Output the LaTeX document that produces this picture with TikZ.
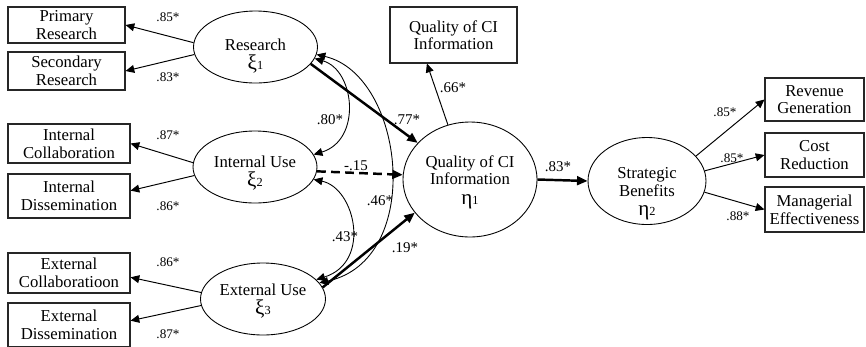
\documentclass[tikz,border=0pt]{standalone}
\usepackage{fontspec}
\setmainfont{Liberation Serif}
\usetikzlibrary{arrows.meta,shapes.geometric}
\newcommand{\mainfnt}{\fontsize{9.5}{10}\selectfont}
\newcommand{\grk}[2]{{\fontsize{12}{12}\selectfont #1}{\fontsize{7}{7}\selectfont #2}}
\tikzset{
  obs/.style={draw=black!85,line width=0.6pt,inner sep=0pt,align=center,font=\mainfnt},
  lat/.style={ellipse,draw,line width=0.5pt,inner sep=0pt},
  lattxt/.style={align=center,font=\mainfnt,inner sep=0pt},
  ld/.style={-{Triangle[length=5pt,width=4.5pt]},line width=0.55pt},   % loading
  pth/.style={-{Triangle[length=6pt,width=5pt]},line width=1.4pt},     % structural path
  cor/.style={{Triangle[length=5pt,width=4.5pt]}-{Triangle[length=5pt,width=4.5pt]},line width=0.5pt}, % covariance
  coefL/.style={font=\fontsize{7.5}{8}\selectfont,inner sep=0pt},
  coefR/.style={font=\fontsize{7.5}{8}\selectfont,inner sep=0pt},
  coefS/.style={font=\fontsize{8.5}{9}\selectfont,inner sep=0pt},
}
\begin{document}
\begin{tikzpicture}[x=0.02cm,y=-0.02cm]
  \useasboundingbox (0,0) rectangle (866,346);
  % indicators
  \node[obs,minimum width=2.34cm,minimum height=0.72cm] (PriR) at (66.5,25) {Primary\\Research};
  \node[obs,minimum width=2.34cm,minimum height=0.76cm] (SecR) at (66.5,71) {Secondary\\Research};
  \node[obs,minimum width=2.44cm,minimum height=0.78cm] (IntC) at (69,143.5) {Internal\\Collaboration};
  \node[obs,minimum width=2.44cm,minimum height=0.88cm] (IntD) at (69,196) {Internal\\Dissemination};
  \node[obs,minimum width=2.44cm,minimum height=0.80cm] (ExtC) at (69,273) {External\\Collaboratioon};
  \node[obs,minimum width=2.44cm,minimum height=0.88cm] (ExtD) at (69,325) {External\\Dissemination};
  \node[obs,minimum width=2.54cm,minimum height=1.12cm] (QCI) at (453.5,35) {Quality of CI\\Information};
  \node[obs,minimum width=1.98cm,minimum height=0.86cm] (Rev) at (814.5,99.5) {Revenue\\Generation};
  \node[obs,minimum width=1.98cm,minimum height=0.88cm] (Cost) at (814.5,155) {Cost\\Reduction};
  \node[obs,minimum width=1.98cm,minimum height=0.90cm] (Mgr) at (814.5,209.5) {Managerial\\Effectiveness};

  % latent constructs
  \node[lat,minimum width=2.48cm,minimum height=1.44cm] (Res) at (255.5,47) {};
  \node[lattxt] (ResT) at (255.5,56) {Research\\[1pt]\grk{ξ}{1}};
  \node[lat,minimum width=2.48cm,minimum height=1.44cm] (IntU) at (255,167) {};
  \node[lattxt] (IntUT) at (255,173) {Internal Use\\[1pt]\grk{ξ}{2}};
  \node[lat,minimum width=2.5cm,minimum height=1.44cm] (ExtU) at (263,299) {};
  \node[lattxt] (ExtUT) at (263,301) {External Use\\[1pt]\grk{ξ}{3}};
  \node[lat,minimum width=2.68cm,minimum height=2.3cm] (Eta) at (470,179.5) {};
  \node[lattxt] (EtaT) at (470,182) {Quality of CI\\Information\\[1pt]\grk{η}{1}};
  \node[lat,minimum width=2.36cm,minimum height=1.74cm] (SB) at (647,181) {};
  \node[lattxt] (SBT) at (647,194) {Strategic\\Benefits\\[1pt]\grk{η}{2}};

  % loadings
  \draw[ld] (Res.176) -- (PriR.east);
  \draw[ld] (Res.187) -- (SecR.east);
  \draw[ld] (IntU.176) -- (IntC.east);
  \draw[ld] (IntU.188) -- (IntD.5);
  \draw[ld] (ExtU.174) -- (ExtC.-4);
  \draw[ld] (ExtU.186) -- (ExtD.4);
  \draw[ld] (Eta.112) -- (QCI.227);
  \draw[ld] (SB.27) -- (Rev.west);
  \draw[ld] (SB.10) -- (Cost.west);
  \draw[ld] (SB.-11) -- (Mgr.west);

  % structural paths
  \draw[pth] (Res.-17) -- (Eta.145);
  \draw[pth,dash pattern=on 5pt off 3pt] (IntU.-4) -- (Eta.176);
  \draw[pth] (ExtU.11) -- (Eta.211);
  \draw[pth] (Eta.east) -- (SB.west);

  % covariances
  \draw[cor] (Res.-11) .. controls (355,70) and (362,140) .. (IntU.12);
  \draw[cor] (Res.-7) .. controls (405,75) and (425,260) .. (ExtU.16);
  \draw[cor] (IntU.-12) .. controls (355,188) and (372,262) .. (ExtU.20);

  % coefficients
  \foreach \n/\x/\y/\v in {a/168/17/.85*, b/168/77/.83*, c/168/135/.87*,
                           d/168/206/.86*, e/168/262/.86*, f/168/334/.87*}
    \node[coefL] (c\n) at (\x,\y) {\v};
  \foreach \n/\x/\y/\v in {g/725/112/.85*, h/732/158/.85*, i/738/216/.88*}
    \node[coefR] (c\n) at (\x,\y) {\v};
  \foreach \n/\x/\y/\v in {j/330/120/.80*, k/407/120/.77*, l/356/166/-.15,
                           m/380/201/.46*, n/345/237/.43*, o/405/248/.19*,
                           p/453/88/.66*, q/558/167/.83*}
    \node[coefS] (c\n) at (\x,\y) {\v};
\end{tikzpicture}
\end{document}
